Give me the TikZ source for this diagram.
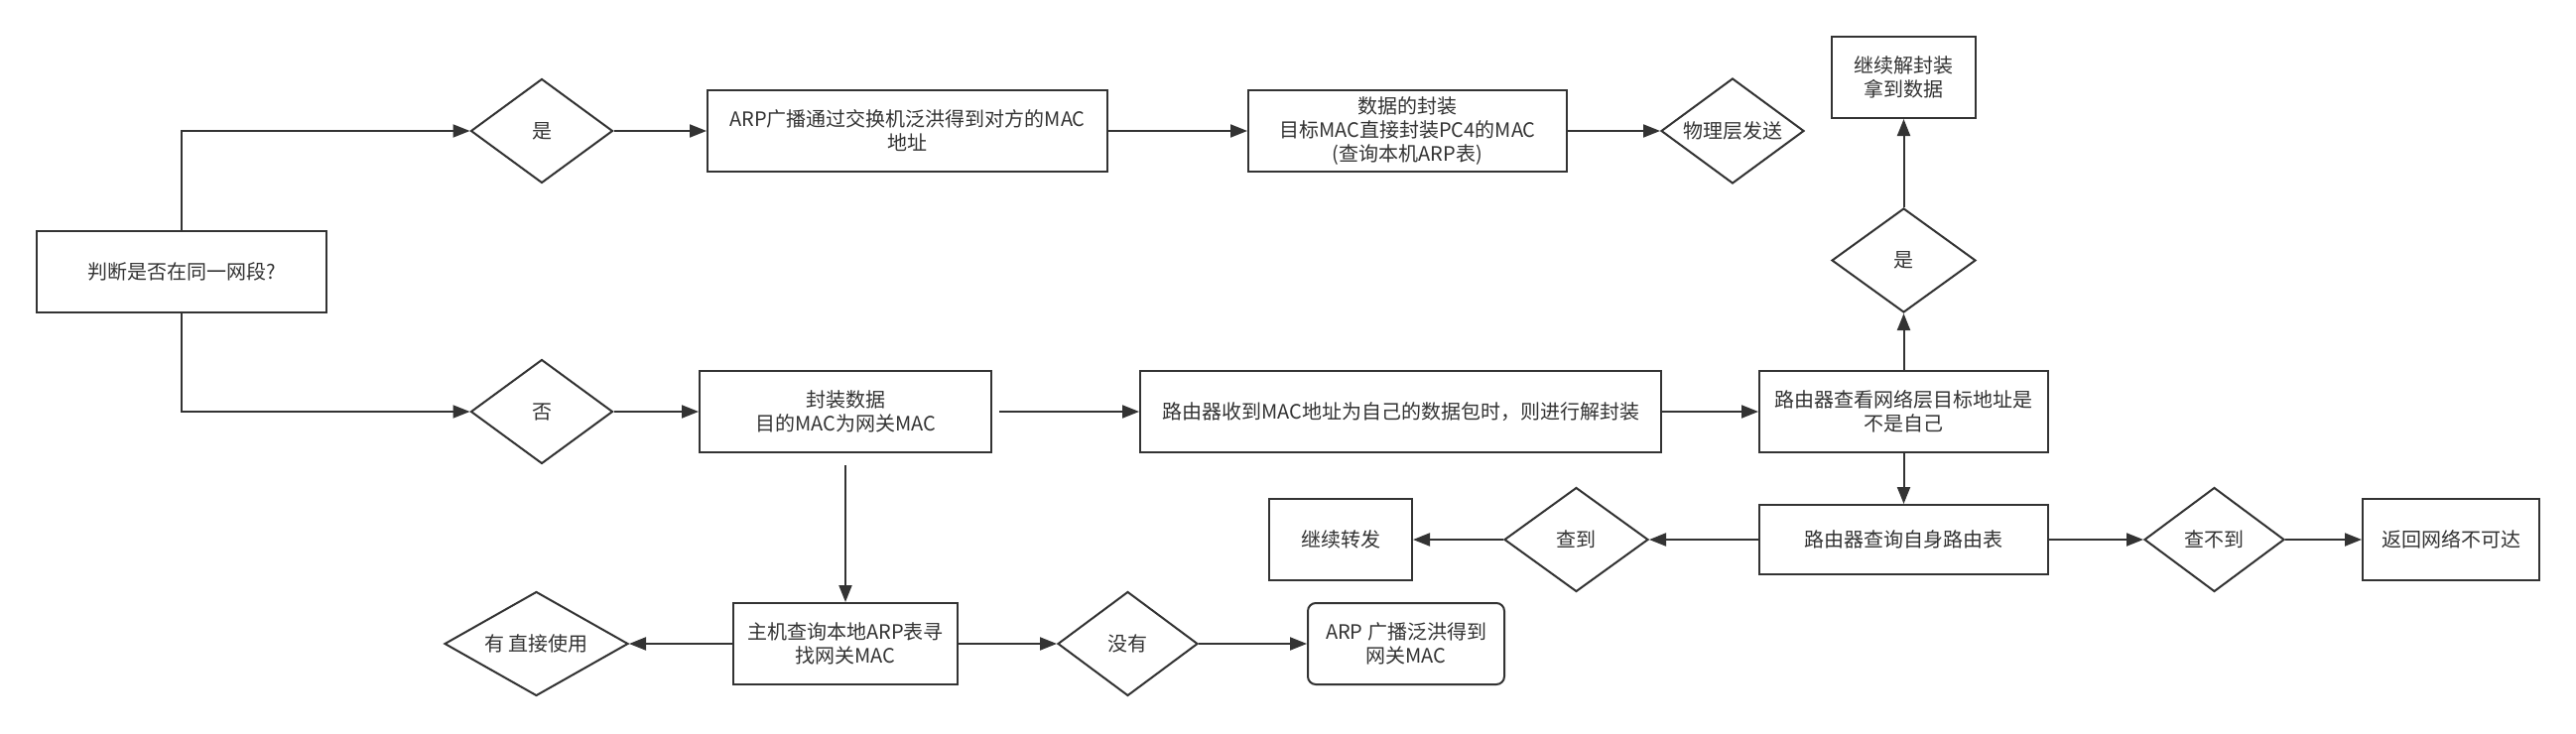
\documentclass[tikz,border=0pt]{standalone}
\usepackage{fontspec}
\setmainfont{Noto Sans CJK SC}
\usetikzlibrary{shapes.geometric,arrows.meta}
\definecolor{ink}{HTML}{333333}
\begin{document}
\begin{tikzpicture}[x=1pt,y=-1pt,
  every node/.style={font=\fontsize{20}{24}\selectfont, text=ink},
  box/.style={draw=ink, line width=2pt, inner sep=0pt, align=center, minimum height=82pt},
  dia/.style={diamond, draw=ink, line width=2pt, inner sep=0pt, aspect=1.4, align=center},
  arr/.style={draw=ink, line width=2pt, -{Triangle[length=17pt,width=13pt]}}]
\fill[white] (0,0) rectangle (2596,739);
\useasboundingbox (0,0) rectangle (2596,739);
% nodes
\node[box, minimum width=292pt] (A) at (183,274) {判断是否在同一网段?};
\node[dia, minimum width=143pt, minimum height=105pt] (D1) at (546,132) {是};
\node[box, minimum width=403pt] (B1) at (914.5,132) {ARP广播通过交换机泛洪得到对方的MAC\\地址};
\node[box, minimum width=321pt] (B2) at (1418.5,132) {数据的封装\\目标MAC直接封装PC4的MAC\\(查询本机ARP表)};
\node[dia, minimum width=144pt, minimum height=106pt] (D2) at (1746,132) {物理层发送};
\node[dia, minimum width=143pt, minimum height=105pt] (D3) at (546,415) {否};
\node[box, minimum width=294pt] (B3) at (852,415) {封装数据\\目的MAC为网关MAC};
\node[box, minimum width=525pt] (B4) at (1411.5,415) {路由器收到MAC地址为自己的数据包时，则进行解封装};
\node[box, minimum width=291pt] (B5) at (1918.5,415) {路由器查看网络层目标地址是\\不是自己};
\node[dia, minimum width=145pt, minimum height=105pt] (D4) at (1918.5,262.5) {是};
\node[box, minimum width=145pt] (B6) at (1918.5,78) {继续解封装\\拿到数据};
\node[box, minimum width=291pt, minimum height=70pt] (B7) at (1918.5,544) {路由器查询自身路由表};
\node[dia, minimum width=145pt, minimum height=105pt] (D5) at (1588.5,544) {查到};
\node[box, minimum width=144pt] (B8) at (1351,544) {继续转发};
\node[dia, minimum width=141pt, minimum height=105pt] (D6) at (2231.5,544) {查不到};
\node[box, minimum width=178pt] (B9) at (2470,544) {返回网络不可达};
\node[box, minimum width=226pt] (B10) at (852,649) {主机查询本地ARP表寻\\找网关MAC};
\node[dia, minimum width=185pt, minimum height=105pt] (D7) at (540.5,649) {有 直接使用};
\node[dia, minimum width=141pt, minimum height=105pt] (D8) at (1136.5,649) {没有};
\node[box, minimum width=198pt, rounded corners=8pt] (B11) at (1417,649) {ARP 广播泛洪得到\\网关MAC};
% connectors
\draw[arr] (A.north) |- (D1.west);
\draw[arr] (D1.east) -- (B1.west);
\draw[arr] (B1.east) -- (B2.west);
\draw[arr] (B2.east) -- (D2.west);
\draw[arr] (A.south) |- (D3.west);
\draw[arr] (D3.east) -- (B3.west);
\draw[arr, shorten <=7pt] (B3.east) -- (B4.west);
\draw[arr] (B4.east) -- (B5.west);
\draw[arr] (B5.north) -- (D4.south);
\draw[arr] (D4.north) -- (B6.south);
\draw[arr] (B5.south) -- (B7.north);
\draw[arr] (B7.west) -- (D5.east);
\draw[arr] (D5.west) -- (B8.east);
\draw[arr] (B7.east) -- (D6.west);
\draw[arr] (D6.east) -- (B9.west);
\draw[arr, shorten <=12pt] (B3.south) -- (B10.north);
\draw[arr] (B10.west) -- (D7.east);
\draw[arr] (B10.east) -- (D8.west);
\draw[arr] (D8.east) -- (B11.west);
\end{tikzpicture}
\end{document}
